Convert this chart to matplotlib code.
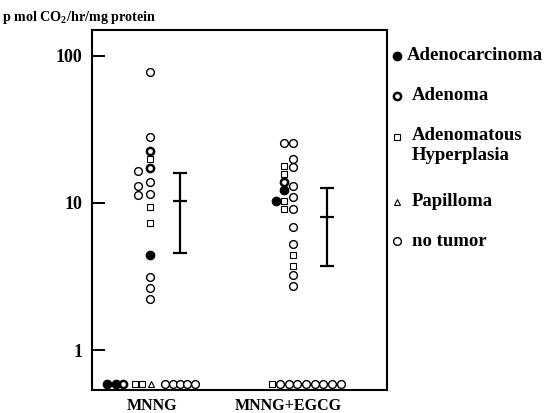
import matplotlib
matplotlib.use("Agg")
import matplotlib.pyplot as plt
from matplotlib.lines import Line2D

plt.rcParams['font.family'] = ['Liberation Serif', 'DejaVu Serif']
plt.rcParams['font.weight'] = 'bold'
plt.rcParams['mathtext.fontset'] = 'custom'
plt.rcParams['mathtext.rm'] = 'Liberation Serif:bold'
plt.rcParams['mathtext.default'] = 'rm'

# ---------------- data ----------------
categories = ["MNNG", "MNNG+EGCG"]
cat_pos = [1, 2]
ND_VALUE = 0.59  # below-detection values drawn at the bottom

# MNNG group
mnng_none_y = [77, 27.9, 16.5, 13.9, 13.0, 11.3, 11.5, 3.12, 2.62, 2.21,
               ND_VALUE, ND_VALUE, ND_VALUE, ND_VALUE, ND_VALUE]
mnng_none_dx = [-0.015, -0.015, -0.103, -0.015, -0.103, -0.103, -0.015, -0.015, -0.015, -0.015,
                0.098, 0.152, 0.206, 0.260, 0.314]
mnng_adenoma_y = [22.6, 17.3, ND_VALUE]
mnng_adenoma_dx = [-0.015, -0.015, -0.211]
mnng_hyper_y = [19.7, 9.4, 7.3, ND_VALUE, ND_VALUE]
mnng_hyper_dx = [-0.015, -0.015, -0.015, -0.125, -0.076]
mnng_carc_y = [4.42, ND_VALUE, ND_VALUE]
mnng_carc_dx = [-0.015, -0.333, -0.265]
mnng_pap_y = [ND_VALUE]
mnng_pap_dx = [-0.010]

# MNNG+EGCG group
egcg_none_y = [25.4, 25.4, 19.7, 17.4, 13.0, 11.0, 9.0, 6.8, 5.25, 3.23, 2.73,
               ND_VALUE, ND_VALUE, ND_VALUE, ND_VALUE, ND_VALUE, ND_VALUE, ND_VALUE, ND_VALUE]
egcg_none_dx = [-0.027, 0.039, 0.039, 0.039, 0.039, 0.039, 0.039, 0.039, 0.039, 0.039, 0.039,
                -0.059, 0.005, 0.069, 0.132, 0.196, 0.260, 0.324, 0.388]
egcg_adenoma_y = [13.9]
egcg_adenoma_dx = [-0.027]
egcg_hyper_y = [17.8, 15.7, 10.3, 9.0, 4.42, 3.74, ND_VALUE]
egcg_hyper_dx = [-0.027, -0.027, -0.027, -0.027, 0.039, 0.039, -0.120]
egcg_carc_y = [12.2, 10.2]
egcg_carc_dx = [-0.027, -0.088]

# mean +/- range bars
bar_dx = [0.206, 0.289]
bar_mean = [10.3, 8.05]
bar_low = [4.54, 3.72]
bar_high = [15.9, 12.5]

ytick_vals = [1, 10, 100]
ytick_labels = ["1", "10", "100"]

legend_labels = ["Adenocarcinoma", "Adenoma", "Adenomatous\nHyperplasia", "Papilloma", "no tumor"]

# ---------------- styles ----------------
styles = {
    "carc": dict(marker='o', markersize=6.2, markerfacecolor='black', markeredgecolor='black', markeredgewidth=0.8),
    "adenoma": dict(marker='o', markersize=5.2, markerfacecolor='white', markeredgecolor='black', markeredgewidth=1.8),
    "hyper": dict(marker='s', markersize=4.8, markerfacecolor='white', markeredgecolor='black', markeredgewidth=0.8),
    "pap": dict(marker='^', markersize=4.8, markerfacecolor='white', markeredgecolor='black', markeredgewidth=0.8),
    "none": dict(marker='o', markersize=5.6, markerfacecolor='white', markeredgecolor='black', markeredgewidth=1.0),
}

fig = plt.figure(figsize=(5.5, 4.13), dpi=100)
ax = fig.add_axes([92 / 550, (413 - 390) / 413, (387 - 92) / 550, (390 - 30) / 413])

def draw(base, dxs, ys, key, z):
    xs = [base + d for d in dxs]
    ax.plot(xs, ys, linestyle='none', zorder=z, clip_on=False, **styles[key])

draw(cat_pos[0], mnng_none_dx, mnng_none_y, "none", 3)
draw(cat_pos[0], mnng_hyper_dx, mnng_hyper_y, "hyper", 4)
draw(cat_pos[0], mnng_pap_dx, mnng_pap_y, "pap", 4)
draw(cat_pos[0], mnng_adenoma_dx, mnng_adenoma_y, "adenoma", 5)
draw(cat_pos[0], mnng_carc_dx, mnng_carc_y, "carc", 6)

draw(cat_pos[1], egcg_none_dx, egcg_none_y, "none", 3)
draw(cat_pos[1], egcg_hyper_dx, egcg_hyper_y, "hyper", 4)
draw(cat_pos[1], egcg_adenoma_dx, egcg_adenoma_y, "adenoma", 5)
draw(cat_pos[1], egcg_carc_dx, egcg_carc_y, "carc", 6)

for c, dx, m, lo, hi in zip(cat_pos, bar_dx, bar_mean, bar_low, bar_high):
    ax.errorbar([c + dx], [m], yerr=[[m - lo], [hi - m]], fmt='_', color='black',
                markersize=9.5, markeredgewidth=1.6, elinewidth=1.6, capsize=4.7, capthick=1.6)

ax.set_yscale('log')
ax.set_ylim(0.535, 149)
ax.set_xlim(0.559, 2.728)
ax.set_yticks(ytick_vals)
ax.set_yticklabels(ytick_labels)
ax.yaxis.set_minor_locator(matplotlib.ticker.NullLocator())
ax.tick_params(axis='y', direction='in', length=9.5, width=1.4, pad=7, labelsize=13)
ax.set_xticks(cat_pos)
ax.set_xticklabels(categories)
ax.tick_params(axis='x', length=0, pad=6, labelsize=11.5)
for s in ax.spines.values():
    s.set_linewidth(1.5)

fig.text(2 / 550, 1 - 17 / 413, r'p mol CO$_2$/hr/mg protein', fontsize=10.2, va='center', ha='left')

# legend drawn outside axes
leg_keys = ["carc", "adenoma", "hyper", "pap", "none"]
leg_marker_y = [56, 96, 137, 202, 241]
leg_text_x = [407, 412, 412, 412, 412]
for key, lab, yy, tx in zip(leg_keys, legend_labels, leg_marker_y, leg_text_x):
    fy = 1 - yy / 413
    fig.add_artist(Line2D([397 / 550], [fy], transform=fig.transFigure, linestyle='none', **styles[key]))
    if '\n' in lab:
        fig.text(tx / 550, 1 - (yy - 10) / 413, lab, fontsize=13.5, va='top', ha='left', linespacing=1.2)
    else:
        fig.text(tx / 550, fy, lab, fontsize=13.5, va='center', ha='left')

fig.savefig("out.png", dpi=100)
